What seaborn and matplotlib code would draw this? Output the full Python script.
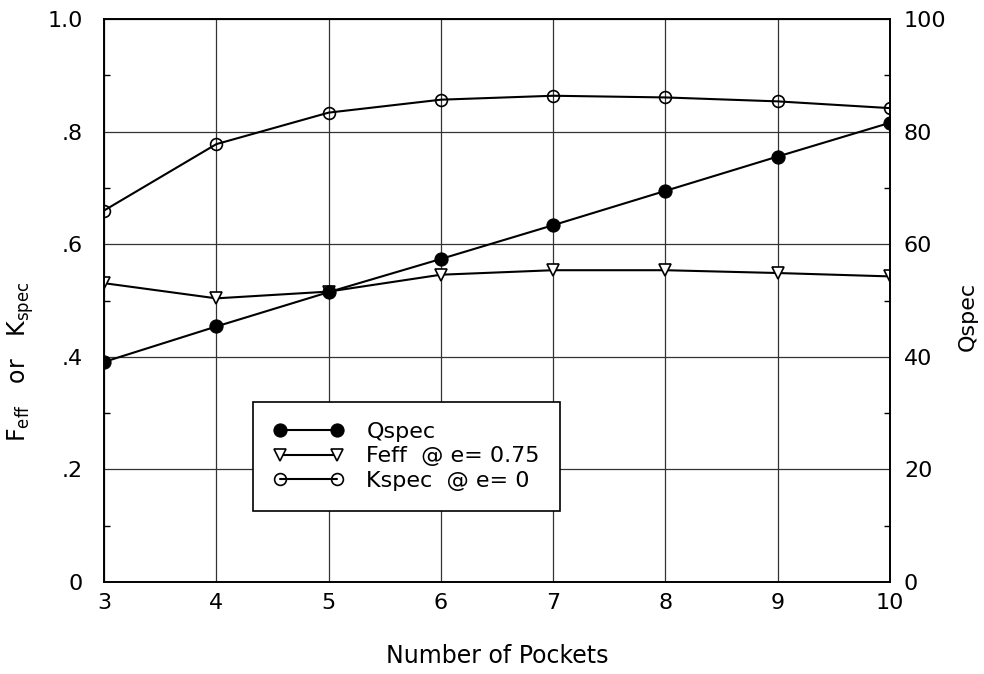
import matplotlib
matplotlib.use("Agg")
import matplotlib.pyplot as plt
from matplotlib.ticker import MultipleLocator, FixedLocator
import seaborn as sns
import pandas as pd

# Pocket count vs. specific discharge and efficiency factors
pockets = [3, 4, 5, 6, 7, 8, 9, 10]
q_spec = [39.1, 45.4, 51.5, 57.4, 63.4, 69.5, 75.6, 81.6]
f_eff = [0.531, 0.504, 0.516, 0.546, 0.554, 0.554, 0.549, 0.543]
k_spec = [0.660, 0.778, 0.834, 0.857, 0.864, 0.861, 0.854, 0.842]

x_ticks = [3, 4, 5, 6, 7, 8, 9, 10]
left_ticks = [0, 0.2, 0.4, 0.6, 0.8, 1.0]
left_labels = ["0", ".2", ".4", ".6", ".8", "1.0"]
right_ticks = [0, 20, 40, 60, 80, 100]

df = pd.DataFrame({"pockets": pockets, "Q": q_spec, "F": f_eff, "K": k_spec})

sns.set_style("white")
plt.rcParams["font.family"] = ["DejaVu Sans"]
plt.rcParams["mathtext.default"] = "regular"
plt.rcParams["text.color"] = "black"
plt.rcParams["axes.labelcolor"] = "black"

FS = 16

fig = plt.figure(figsize=(9.84, 6.74), dpi=100)
ax = fig.add_axes([0.1057, 0.1365, 0.7988, 0.835])
ax2 = ax.twinx()

line_kw = dict(color="black", linewidth=1.5)

sns.lineplot(data=df, x="pockets", y="F", ax=ax, marker="v", markersize=8.5,
             markerfacecolor="white", markeredgecolor="black", markeredgewidth=1.2,
             label="Feff  @ e= 0.75", legend=False, **line_kw)
sns.lineplot(data=df, x="pockets", y="K", ax=ax, marker="o", markersize=8.5,
             markerfacecolor="none", markeredgecolor="black", markeredgewidth=1.2,
             label="Kspec  @ e= 0", legend=False, **line_kw)
sns.lineplot(data=df, x="pockets", y="Q", ax=ax2, marker="o", markersize=9.5,
             markerfacecolor="black", markeredgecolor="black",
             label="Qspec", legend=False, **line_kw)

ax.set_xlim(3, 10)
ax.set_ylim(0, 1.0)
ax2.set_ylim(0, 100)

ax.xaxis.set_major_locator(FixedLocator(x_ticks))
ax.set_xticklabels([str(t) for t in x_ticks])
ax.yaxis.set_major_locator(FixedLocator(left_ticks))
ax.set_yticklabels(left_labels)
ax.yaxis.set_minor_locator(MultipleLocator(0.1))
ax2.yaxis.set_major_locator(FixedLocator(right_ticks))
ax2.set_yticklabels([str(t) for t in right_ticks])
ax2.yaxis.set_minor_locator(MultipleLocator(10))

ax.grid(True, which="major", color="#333333", linewidth=0.9)
ax2.grid(False)

for a in (ax, ax2):
    for s in a.spines.values():
        s.set_color("black")
        s.set_linewidth(1.2)
    a.tick_params(axis="both", which="major", direction="in", length=0,
                  labelsize=FS, colors="black")
    a.tick_params(axis="y", which="minor", direction="in", length=4,
                  width=1, color="black")
ax.tick_params(axis="x", which="major", pad=8)
ax.tick_params(axis="y", which="major", pad=15)
ax2.tick_params(axis="y", which="major", pad=10)

ax.set_xlabel("Number of Pockets", fontsize=17, labelpad=22)
ax.set_ylabel("F$_{eff}$   or   K$_{spec}$", fontsize=17)
ax.yaxis.set_label_coords(-0.086, 0.391)
ax2.set_ylabel("Qspec", fontsize=FS)
ax2.yaxis.set_label_coords(1.086, 0.471)

# legend: Qspec first, then Feff and Kspec
h1, l1 = ax.get_legend_handles_labels()
h2, l2 = ax2.get_legend_handles_labels()
leg = ax2.legend(h2 + h1, l2 + l1, loc="upper left", bbox_to_anchor=(0.1896, 0.32),
                 borderaxespad=0, numpoints=2, fancybox=False, framealpha=1,
                 edgecolor="black", fontsize=FS, handlelength=3.2,
                 borderpad=0.9, labelspacing=0.2, handletextpad=1.0)
leg.get_frame().set_linewidth(1.2)
for t in leg.get_texts():
    t.set_color("black")

fig.savefig("out.png", dpi=100)
